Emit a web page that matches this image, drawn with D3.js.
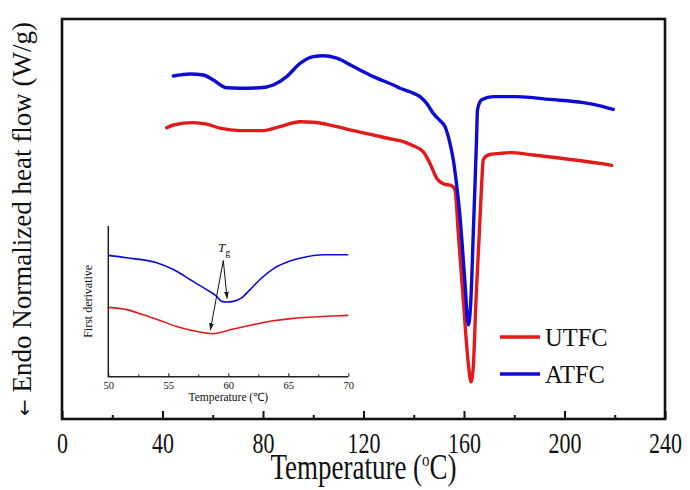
<!DOCTYPE html>
<html><head><meta charset="utf-8">
<script src="https://cdn.jsdelivr.net/npm/d3@7"></script>
<style>
html,body{margin:0;padding:0;background:#fff;}
text{font-family:"Liberation Serif","Times New Roman",serif;fill:#111;}
</style></head>
<body><svg id="c" width="690" height="490"></svg>
<script>
// ---- data (main DSC curves) ----
const seriesNames = ["UTFC", "ATFC"];
const seriesColors = ["#e11b1b", "#0c0cd6"];
const xTicks = [0, 20, 40, 60, 80, 100, 120, 140, 160, 180, 200, 220, 240];
const xLabelTicks = [0, 40, 80, 120, 160, 200, 240];
const utfcT = [41.67,44.30,52.26,57.59,62.89,70.85,80.12,86.77,94.73,100.02,107.98,115.94,123.90,131.86,134.53,139.82,143.80,146.47,149.13,151.76,155.10,156.42,157.73,159.72,161.71,162.79,163.70,164.78,166.09,167.04,167.68,169.67,174.33,178.31,187.58,200.88,214.13,218.79];
const utfcV = [7.28,7.35,7.41,7.37,7.27,7.21,7.21,7.31,7.43,7.42,7.33,7.21,7.10,6.99,6.96,6.83,6.68,6.39,6.02,5.88,5.83,5.73,4.64,2.98,1.39,0.93,1.31,2.98,4.64,5.89,6.48,6.60,6.64,6.66,6.60,6.50,6.39,6.34];
const atfcT = [44.30,50.95,56.24,60.22,65.55,70.85,78.81,84.10,89.43,94.73,100.02,104.0,109.33,115.94,123.90,131.86,134.53,138.51,142.49,145.15,147.78,150.45,152.44,154.43,155.74,156.82,158.41,160.40,161.71,162.67,163.70,164.58,164.98,165.37,167.04,171.66,180.98,194.23,207.48,214.13,219.42];
const atfcV = [8.575,8.625,8.6,8.475,8.28,8.27,8.28,8.35,8.56,8.89,9.06,9.08,9.02,8.81,8.56,8.35,8.27,8.18,8.06,7.89,7.64,7.46,7.31,6.89,6.48,5.98,5.06,3.39,2.35,2.89,4.64,6.23,6.98,7.73,7.98,8.06,8.06,7.99,7.91,7.83,7.74];

// ---- data (inset: first derivative) ----
const insetTicks = [50, 52.5, 55, 57.5, 60, 62.5, 65, 67.5, 70];
const insetLabelTicks = [50, 55, 60, 65, 70];
const insUtfcT = [50,51.53,52.92,54.31,55.69,57.08,58.19,58.75,59.31,60.42,62.08,63.75,65.42,67.08,68.75,70];
const insUtfcV = [4.6,4.45,4.11,3.73,3.33,3.05,2.89,2.85,2.93,3.16,3.45,3.71,3.87,3.96,4.03,4.07];
const insAtfcT = [50,51.53,54.03,55.42,56.81,57.36,58.19,59.03,59.44,59.86,60.42,61.11,61.81,62.64,63.75,65.14,66.53,67.92,70];
const insAtfcV = [8.05,7.89,7.56,7.11,6.45,6.18,5.78,5.33,5.0,4.96,5.0,5.23,5.78,6.45,7.16,7.67,7.96,8.09,8.09];
const tgT = [59.9, 58.5];   // Tg arrow targets (temperature)
const tgV = [5.05, 2.95];   // Tg arrow targets (derivative)

const svg = d3.select("#c");

// ---- main chart ----
const M = {l: 62, t: 19, r: 665, b: 419};
const x = d3.scaleLinear().domain([0, 240]).range([M.l, M.r]);
const y = d3.scaleLinear().domain([0, 10]).range([M.b, M.t]);

const line = d3.line().x(d => x(d[0])).y(d => y(d[1])).curve(d3.curveMonotoneX);
const mainData = [d3.zip(utfcT, utfcV), d3.zip(atfcT, atfcV)];
mainData.forEach((s, i) => {
  svg.append("path").attr("d", line(s)).attr("fill", "none")
    .attr("stroke", seriesColors[i]).attr("stroke-width", 3.4)
    .attr("stroke-linejoin", "round").attr("stroke-linecap", "round");
});

// x axis with inward ticks
const xAxis = d3.axisBottom(x).tickValues(xTicks)
  .tickFormat(d => xLabelTicks.includes(d) ? d : "").tickSizeOuter(0);
const gx = svg.append("g").attr("transform", `translate(0,${M.b})`).call(xAxis);
gx.select(".domain").remove();
gx.selectAll(".tick line").attr("y2", d => xLabelTicks.includes(d) ? -8 : -4)
  .attr("stroke", "#111").attr("stroke-width", 2);
gx.selectAll(".tick text").attr("y", null).attr("dy", 0)
  .attr("transform", "translate(0,34) scale(1,1.35)")
  .style("font-size", "22px").style("font-family", "'Liberation Serif',serif").attr("fill", "#111");

svg.append("rect").attr("x", M.l).attr("y", M.t).attr("width", M.r - M.l).attr("height", M.b - M.t)
  .attr("fill", "none").attr("stroke", "#111").attr("stroke-width", 2.6);

// axis titles
const xt = svg.append("text").attr("transform", `translate(${(M.l + M.r) / 2},479) scale(1,1.3)`)
  .attr("text-anchor", "middle").style("font-size", "27px");
xt.append("tspan").text("Temperature (");
xt.append("tspan").text("o").attr("dy", -10).style("font-size", "15px");
xt.append("tspan").text("C)").attr("dy", 10);

const yt = svg.append("text").attr("transform", `translate(31,${(M.t + M.b) / 2}) rotate(-90)`)
  .attr("text-anchor", "middle").style("font-size", "27px");
yt.append("tspan").text("\u2190").style("font-family", "'DejaVu Sans',sans-serif").style("font-size", "20px");
yt.append("tspan").text(" Endo Normalized heat flow (W/g)");

// legend
seriesNames.forEach((n, i) => {
  const ly = 337 + i * 37;
  svg.append("line").attr("x1", 500).attr("x2", 540).attr("y1", ly).attr("y2", ly)
    .attr("stroke", seriesColors[i]).attr("stroke-width", 3.6);
  svg.append("text").attr("x", 545).attr("y", ly + 8.5).style("font-size", "24.5px").text(n);
});

// ---- inset ----
const I = {l: 108.3, t: 226, r: 348.3, b: 376.7};
const xi = d3.scaleLinear().domain([50, 70]).range([I.l, I.r]);
const yi = d3.scaleLinear().domain([0, 10]).range([I.b, I.t]);
const iline = d3.line().x(d => xi(d[0])).y(d => yi(d[1])).curve(d3.curveMonotoneX);
[d3.zip(insUtfcT, insUtfcV), d3.zip(insAtfcT, insAtfcV)].forEach((s, i) => {
  svg.append("path").attr("d", iline(s)).attr("fill", "none")
    .attr("stroke", seriesColors[i]).attr("stroke-width", 1.6);
});
const xiAxis = d3.axisBottom(xi).tickValues(insetTicks)
  .tickFormat(d => insetLabelTicks.includes(d) ? d : "").tickSizeOuter(0);
const gxi = svg.append("g").attr("transform", `translate(0,${I.b})`).call(xiAxis);
gxi.select(".domain").remove();
gxi.selectAll(".tick line").attr("y2", d => insetLabelTicks.includes(d) ? -3.5 : -2.5)
  .attr("stroke", "#222").attr("stroke-width", 1);
gxi.selectAll(".tick text").attr("y", 12).attr("dy", 0)
  .style("font-size", "10.5px").style("font-family", "'Liberation Serif',serif").attr("fill", "#222");
svg.append("path").attr("d", `M${I.l},${I.t}V${I.b}H${I.r}`).attr("fill", "none")
  .attr("stroke", "#222").attr("stroke-width", 1.5);
svg.append("text").attr("x", (I.l + I.r) / 2).attr("y", 401).attr("text-anchor", "middle")
  .style("font-size", "11.5px").text("Temperature (\u2103)");
svg.append("text").attr("transform", `translate(92,${(I.t + I.b) / 2}) rotate(-90)`)
  .attr("text-anchor", "middle").style("font-size", "12px").text("First derivative");

// Tg annotation
const tg = svg.append("text").attr("x", 218).attr("y", 252).style("font-size", "13px");
tg.append("tspan").text("T").style("font-style", "italic");
tg.append("tspan").text("g").attr("dy", 4).style("font-size", "10px");
svg.append("defs").append("marker").attr("id", "ah").attr("viewBox", "0 0 10 10")
  .attr("refX", 10).attr("refY", 5).attr("markerWidth", 7).attr("markerHeight", 7)
  .attr("orient", "auto-start-reverse")
  .append("path").attr("d", "M0,1.5L10,5L0,8.5Z").attr("fill", "#111");
const ax0 = 223.3, ay0 = 260.5;
tgT.forEach((t, i) => {
  svg.append("line").attr("x1", ax0).attr("y1", ay0).attr("x2", xi(t)).attr("y2", yi(tgV[i]) - 2)
    .attr("stroke", "#111").attr("stroke-width", 1).attr("marker-end", "url(#ah)");
});
</script></body></html>
